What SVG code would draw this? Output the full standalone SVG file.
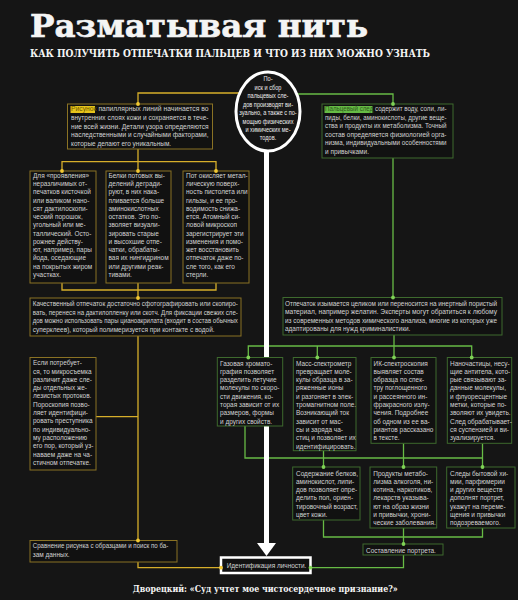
<svg xmlns="http://www.w3.org/2000/svg" width="518" height="600" viewBox="0 0 518 600">
<style>
.bg{fill:#151515}
.t{font-family:"Liberation Sans",Arial,sans-serif;font-size:7.2px;fill:#d2d2d2}
.ot{font-family:"Liberation Sans",Arial,sans-serif;font-size:6.6px;fill:#ececec;text-anchor:middle}
.by{fill:#111;stroke:#8a7224;stroke-width:1}
.bgr{fill:#111;stroke:#3e6a2e;stroke-width:1}
.cy{fill:none;stroke:#d6ae2a;stroke-width:1.3}
.cg{fill:none;stroke:#67bb45;stroke-width:1.3}
.dy{fill:#f2c832}
.dg{fill:#7fd256}
.hd{font-family:"DejaVu Serif",serif;font-weight:bold;fill:#f4f4f4}
</style>
<rect class="bg" x="0" y="0" width="518" height="600"/>

<text class="hd" x="30" y="37" font-size="32" stroke="#f4f4f4" stroke-width="0.6" textLength="338" lengthAdjust="spacingAndGlyphs">Разматывая нить</text>
<text class="hd" x="30" y="57.3" font-size="10.5" textLength="400" lengthAdjust="spacingAndGlyphs">КАК ПОЛУЧИТЬ ОТПЕЧАТКИ ПАЛЬЦЕВ И ЧТО ИЗ НИХ МОЖНО УЗНАТЬ</text>

<g id="connectors">
<path class="cy" d="M138,104 V93 H242 M138,149 V161.7 M62,171 V161.7 H216 V171 M138,161.7 V171 M62,283 V290 H216 V283 M138,283 V298 M138,336 V540 M96,416.7 H138 M138,562 V567.7 H221"/>
<path class="cg" d="M393,104 V94 H294 M393,158 V297.5 M394,335 V346 M248.3,357.5 V346 H471.7 V357.5 M317.3,346 V357.5 M394,346 V357.5 M245,426 V458 H482.5 M323.5,450.7 V467 M403.5,443.3 V467 M482.5,443.3 V467 M323.5,520 V537 H482.5 V528 M403.5,528 V544 M403.5,555 V567.7 H310.5"/>
<path d="M266.5,151 V545" stroke="#ffffff" stroke-width="5" fill="none"/>
<polygon points="257,543 276,543 266.5,556" fill="#ffffff"/>
</g>

<g id="n-oval">
<ellipse cx="268" cy="111.5" rx="32" ry="39.5" fill="#151515" stroke="#ffffff" stroke-width="3"/>
<g transform="translate(268 0) scale(0.85 1)">
<text class="ot" x="0" y="81.3">По-</text>
<text class="ot" x="0" y="89.8">иск и сбор</text>
<text class="ot" x="0" y="98.2">пальцевых сле-</text>
<text class="ot" x="0" y="106.7">дов производят ви-</text>
<text class="ot" x="0" y="115.1">зуально, а также с по-</text>
<text class="ot" x="0" y="123.6">мощью физических</text>
<text class="ot" x="0" y="132">и химических ме-</text>
<text class="ot" x="0" y="140.5">тодов.</text>
</g>
</g>

<g id="n-pattern">
<rect class="by" x="67.5" y="104" width="145" height="45"/>
<rect x="70.5" y="106" width="24.5" height="7" fill="#e6c41c"/>
<g transform="translate(71 0) scale(0.9 1)">
<text class="t" y="111.5" textLength="152.8" lengthAdjust="spacingAndGlyphs"><tspan fill="#6e5a00">Рисунок</tspan> папиллярных линий начинается во</text>
<text class="t" y="120.1" textLength="152.8" lengthAdjust="spacingAndGlyphs">внутренних слоях кожи и сохраняется в тече-</text>
<text class="t" y="128.7" textLength="152.8" lengthAdjust="spacingAndGlyphs">ние всей жизни. Детали узора определяются</text>
<text class="t" y="137.3" textLength="152.8" lengthAdjust="spacingAndGlyphs">наследственными и случайными факторами,</text>
<text class="t" y="145.9">которые делают его уникальным.</text>
</g>
</g>

<g id="n-trace">
<rect class="bgr" x="322" y="104" width="131" height="54"/>
<rect x="324.5" y="106" width="48" height="7" fill="#66bb45"/>
<g transform="translate(325 0) scale(0.9 1)">
<text class="t" y="111.5" textLength="135" lengthAdjust="spacingAndGlyphs"><tspan fill="#2f5a1c">Пальцевый след</tspan> содержит воду, соли, ли-</text>
<text class="t" y="120" textLength="135" lengthAdjust="spacingAndGlyphs">пиды, белки, аминокислоты, другие веще-</text>
<text class="t" y="128.5" textLength="135" lengthAdjust="spacingAndGlyphs">ства и продукты их метаболизма. Точный</text>
<text class="t" y="137" textLength="135" lengthAdjust="spacingAndGlyphs">состав определяется физиологией орга-</text>
<text class="t" y="145.5" textLength="135" lengthAdjust="spacingAndGlyphs">низма, индивидуальными особенностями</text>
<text class="t" y="154">и привычками.</text>
</g>
</g>

<g id="n-powder">
<rect class="by" x="30" y="171" width="66" height="112"/>
<g transform="translate(33 0) scale(0.9 1)">
<text class="t"><tspan x="0" y="178">Для «проявления»</tspan><tspan x="0" y="186.25">неразличимых от-</tspan><tspan x="0" y="194.5">печатков кисточкой</tspan><tspan x="0" y="202.75">или валиком нано-</tspan><tspan x="0" y="211">сят дактилоскопи-</tspan><tspan x="0" y="219.25">ческий порошок,</tspan><tspan x="0" y="227.5">угольный или ме-</tspan><tspan x="0" y="235.75">таллический. Осто-</tspan><tspan x="0" y="244">рожнее действу-</tspan><tspan x="0" y="252.25">ют, например, пары</tspan><tspan x="0" y="260.5">йода, оседающие</tspan><tspan x="0" y="268.75">на покрытых жиром</tspan><tspan x="0" y="277">участках.</tspan></text>
</g>
</g>

<g id="n-proteins">
<rect class="by" x="106" y="171" width="65" height="112"/>
<g transform="translate(108.5 0) scale(0.9 1)">
<text class="t"><tspan x="0" y="178">Белки потовых вы-</tspan><tspan x="0" y="186.25">делений дегради-</tspan><tspan x="0" y="194.5">руют, в них нака-</tspan><tspan x="0" y="202.75">пливается больше</tspan><tspan x="0" y="211">аминокислотных</tspan><tspan x="0" y="219.25">остатков. Это по-</tspan><tspan x="0" y="227.5">зволяет визуали-</tspan><tspan x="0" y="235.75">зировать старые</tspan><tspan x="0" y="244">и высохшие отпе-</tspan><tspan x="0" y="252.25">чатки, обрабаты-</tspan><tspan x="0" y="260.5">вая их нингидрином</tspan><tspan x="0" y="268.75">или другими реак-</tspan><tspan x="0" y="277">тивами.</tspan></text>
</g>
</g>

<g id="n-sweat">
<rect class="by" x="183" y="171" width="66" height="112"/>
<g transform="translate(186 0) scale(0.9 1)">
<text class="t"><tspan x="0" y="178">Пот окисляет метал-</tspan><tspan x="0" y="186.25">лическую поверх-</tspan><tspan x="0" y="194.5">ность пистолета или</tspan><tspan x="0" y="202.75">гильзы, и ее про-</tspan><tspan x="0" y="211">водимость снижа-</tspan><tspan x="0" y="219.25">ется. Атомный си-</tspan><tspan x="0" y="227.5">ловой микроскоп</tspan><tspan x="0" y="235.75">зарегистрирует эти</tspan><tspan x="0" y="244">изменения и помо-</tspan><tspan x="0" y="252.25">жет восстановить</tspan><tspan x="0" y="260.5">отпечаток даже по-</tspan><tspan x="0" y="268.75">сле того, как его</tspan><tspan x="0" y="277">стерли.</tspan></text>
</g>
</g>

<g id="n-photo">
<rect class="by" x="30" y="298" width="211" height="38"/>
<g transform="translate(32.7 0) scale(0.9 1)">
<text class="t" y="306.3" textLength="228" lengthAdjust="spacingAndGlyphs">Качественный отпечаток достаточно сфотографировать или скопиро-</text>
<text class="t" y="314.8" textLength="228" lengthAdjust="spacingAndGlyphs">вать, перенеся на дактилопленку или скотч. Для фиксации свежих сле-</text>
<text class="t" y="323.3" textLength="228" lengthAdjust="spacingAndGlyphs">дов можно использовать пары цианоакрилата (входит в состав обычных</text>
<text class="t" y="331.8">суперклеев), который полимеризуется при контакте с водой.</text>
</g>
</g>

<g id="n-pores">
<rect class="by" x="30" y="357.5" width="66" height="112.5"/>
<g transform="translate(33 0) scale(0.9 1)">
<text class="t"><tspan x="0" y="365.3">Если потребует-</tspan><tspan x="0" y="373.6">ся, то микросъемка</tspan><tspan x="0" y="381.9">различит даже сле-</tspan><tspan x="0" y="390.2">ды отдельных же-</tspan><tspan x="0" y="398.5">лезистых протоков.</tspan><tspan x="0" y="406.8">Пороскопия позво-</tspan><tspan x="0" y="415.1">ляет идентифици-</tspan><tspan x="0" y="423.4">ровать преступника</tspan><tspan x="0" y="431.7">по индивидуально-</tspan><tspan x="0" y="440">му расположению</tspan><tspan x="0" y="448.3">его пор, который уз-</tspan><tspan x="0" y="456.6">наваем даже на ча-</tspan><tspan x="0" y="464.9">стичном отпечатке.</tspan></text>
</g>
</g>

<g id="n-compare">
<rect class="by" x="30" y="540.5" width="147" height="21.5"/>
<g transform="translate(32.7 0) scale(0.9 1)">
<text class="t" y="548.5" textLength="150.7" lengthAdjust="spacingAndGlyphs">Сравнение рисунка с образцами и поиск по ба-</text>
<text class="t" y="556.8">зам данных.</text>
</g>
</g>

<g id="n-identity">
<rect x="221" y="557.5" width="89.5" height="15.5" fill="#111" stroke="#ffffff" stroke-width="2.5"/>
<g transform="translate(226.7 0) scale(0.9 1)">
<text class="t" y="568" fill="#e6e6e6">Идентификация личности.</text>
</g>
</g>

<g id="n-lift">
<rect class="bgr" x="283" y="297.5" width="219" height="37.5"/>
<g transform="translate(285 0) scale(0.9 1)">
<text class="t" y="305.6" textLength="235.6" lengthAdjust="spacingAndGlyphs">Отпечаток изымается целиком или переносится на инертный пористый</text>
<text class="t" y="314.1" textLength="235.6" lengthAdjust="spacingAndGlyphs">материал, например желатин. Эксперты могут обратиться к любому</text>
<text class="t" y="322.6" textLength="235.6" lengthAdjust="spacingAndGlyphs">из современных методов химического анализа, многие из которых уже</text>
<text class="t" y="331.1">адаптированы для нужд криминалистики.</text>
</g>
</g>

<g id="n-gc">
<rect class="bgr" x="217.3" y="357.5" width="65.4" height="68.5"/>
<g transform="translate(220 0) scale(0.9 1)">
<text class="t"><tspan x="0" y="365.6">Газовая хромато-</tspan><tspan x="0" y="373.9">графия позволяет</tspan><tspan x="0" y="382.2">разделить летучие</tspan><tspan x="0" y="390.5">молекулы по скоро-</tspan><tspan x="0" y="398.8">сти движения, ко-</tspan><tspan x="0" y="407.1">торая зависит от их</tspan><tspan x="0" y="415.4">размеров, формы</tspan><tspan x="0" y="423.7">и других свойств.</tspan></text>
</g>
</g>

<g id="n-ms">
<rect class="bgr" x="293.3" y="357.5" width="62.7" height="93.2"/>
<g transform="translate(296 0) scale(0.9 1)">
<text class="t"><tspan x="0" y="365.6">Масс-спектрометр</tspan><tspan x="0" y="373.9">превращает моле-</tspan><tspan x="0" y="382.2">кулы образца в за-</tspan><tspan x="0" y="390.5">ряженные ионы</tspan><tspan x="0" y="398.8">и разгоняет в элек-</tspan><tspan x="0" y="407.1">тромагнитном поле.</tspan><tspan x="0" y="415.4">Возникающий ток</tspan><tspan x="0" y="423.7">зависит от мас-</tspan><tspan x="0" y="432">сы и заряда ча-</tspan><tspan x="0" y="440.3">стиц и позволяет их</tspan><tspan x="0" y="448.6">идентифицировать.</tspan></text>
</g>
</g>

<g id="n-ir">
<rect class="bgr" x="371" y="357.5" width="65" height="85.8"/>
<g transform="translate(373.5 0) scale(0.9 1)">
<text class="t"><tspan x="0" y="365.6">ИК-спектроскопия</tspan><tspan x="0" y="373.9">выявляет состав</tspan><tspan x="0" y="382.2">образца по спек-</tspan><tspan x="0" y="390.5">тру поглощенного</tspan><tspan x="0" y="398.8">и рассеянного ин-</tspan><tspan x="0" y="407.1">фракрасного излу-</tspan><tspan x="0" y="415.4">чения. Подробнее</tspan><tspan x="0" y="423.7">об одном из ее ва-</tspan><tspan x="0" y="432">риантов рассказано</tspan><tspan x="0" y="440.3">в тексте.</tspan></text>
</g>
</g>

<g id="n-nano">
<rect class="bgr" x="447.3" y="357.5" width="64.4" height="85.8"/>
<g transform="translate(450 0) scale(0.9 1)">
<text class="t"><tspan x="0" y="365.6">Наночастицы, несу-</tspan><tspan x="0" y="373.9">щие антитела, кото-</tspan><tspan x="0" y="382.2">рые связывают за-</tspan><tspan x="0" y="390.5">данные молекулы,</tspan><tspan x="0" y="398.8">и флуоресцентные</tspan><tspan x="0" y="407.1">метки, которые по-</tspan><tspan x="0" y="415.4">зволяют их увидеть.</tspan><tspan x="0" y="423.7">След обрабатывает-</tspan><tspan x="0" y="432">ся суспензией и ви-</tspan><tspan x="0" y="440.3">зуализируется.</tspan></text>
</g>
</g>

<g id="n-proteins2">
<rect class="bgr" x="292.7" y="467" width="67.3" height="53"/>
<g transform="translate(296 0) scale(0.9 1)">
<text class="t"><tspan x="0" y="475.6">Содержание белков,</tspan><tspan x="0" y="483.9">аминокислот, липи-</tspan><tspan x="0" y="492.2">дов позволяет опре-</tspan><tspan x="0" y="500.5">делить пол, ориен-</tspan><tspan x="0" y="508.8">тировочный возраст,</tspan><tspan x="0" y="517.1">цвет кожи.</tspan></text>
</g>
</g>

<g id="n-metabolites">
<rect class="bgr" x="370" y="467" width="66.7" height="61"/>
<g transform="translate(373.3 0) scale(0.9 1)">
<text class="t"><tspan x="0" y="475.6">Продукты метабо-</tspan><tspan x="0" y="483.9">лизма алкоголя, ни-</tspan><tspan x="0" y="492.2">котина, наркотиков,</tspan><tspan x="0" y="500.5">лекарств указыва-</tspan><tspan x="0" y="508.8">ют на образ жизни</tspan><tspan x="0" y="517.1">и привычки, хрони-</tspan><tspan x="0" y="525.4">ческие заболевания.</tspan></text>
</g>
</g>

<g id="n-chemicals">
<rect class="bgr" x="446.7" y="467" width="68.3" height="61"/>
<g transform="translate(450 0) scale(0.9 1)">
<text class="t"><tspan x="0" y="475.6">Следы бытовой хи-</tspan><tspan x="0" y="483.9">мии, парфюмерии</tspan><tspan x="0" y="492.2">и других веществ</tspan><tspan x="0" y="500.5">дополнят портрет,</tspan><tspan x="0" y="508.8">укажут на переме-</tspan><tspan x="0" y="517.1">щения и привычки</tspan><tspan x="0" y="525.4">подозреваемого.</tspan></text>
</g>
</g>

<g id="n-portrait">
<rect class="bgr" x="363" y="544" width="80" height="11"/>
<g transform="translate(366 0) scale(0.9 1)">
<text class="t" y="552.6">Составление портрета.</text>
</g>
</g>

<g id="dots">
<circle class="dy" cx="138" cy="104" r="1.9"/>
<circle class="dy" cx="62" cy="171" r="1.9"/>
<circle class="dy" cx="138" cy="171" r="1.9"/>
<circle class="dy" cx="216" cy="171" r="1.9"/>
<circle class="dy" cx="138" cy="298" r="1.9"/>
<circle class="dy" cx="138" cy="540.5" r="1.9"/>
<circle class="dy" cx="221" cy="567.7" r="1.9"/>
<circle class="dg" cx="393" cy="104" r="1.9"/>
<circle class="dg" cx="393" cy="297.5" r="1.9"/>
<circle class="dg" cx="248.3" cy="357.5" r="1.9"/>
<circle class="dg" cx="317.3" cy="357.5" r="1.9"/>
<circle class="dg" cx="394" cy="357.5" r="1.9"/>
<circle class="dg" cx="471.7" cy="357.5" r="1.9"/>
<circle class="dg" cx="323.5" cy="467" r="1.9"/>
<circle class="dg" cx="403.5" cy="467" r="1.9"/>
<circle class="dg" cx="482.5" cy="467" r="1.9"/>
<circle class="dg" cx="403.5" cy="544" r="1.9"/>
<circle class="dg" cx="310.5" cy="567.7" r="1.9"/>
</g>

<text class="hd" x="132.7" y="591.5" font-size="10" textLength="265" lengthAdjust="spacingAndGlyphs">Дворецкий: «Суд учтет мое чистосердечное признание?»</text>
</svg>
